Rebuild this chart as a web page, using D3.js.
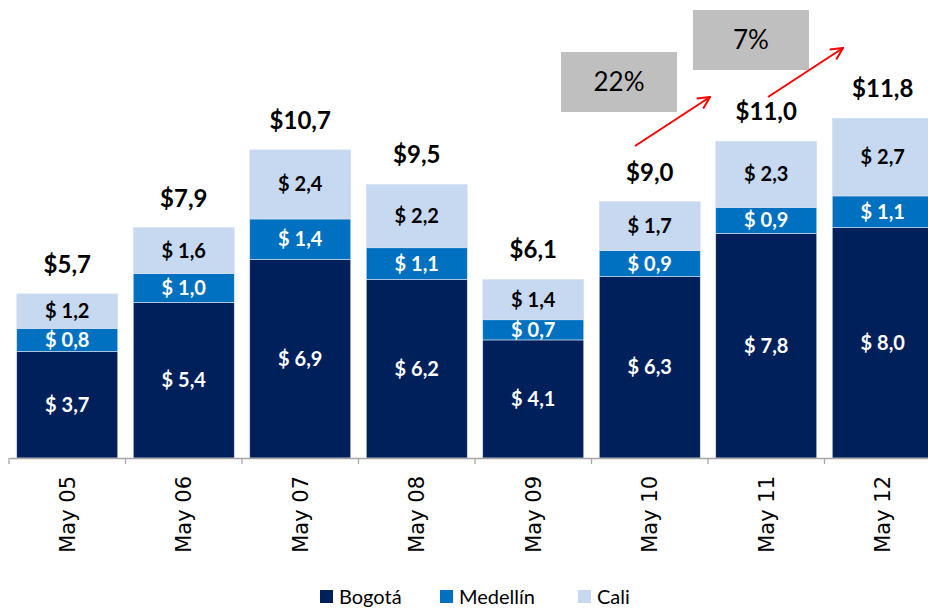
<!DOCTYPE html>
<html>
<head>
<meta charset="utf-8">
<script src="https://cdn.jsdelivr.net/npm/d3@7"></script>
<style>
  body { margin: 0; background: #fff; }
  svg { display: block; }
</style>
</head>
<body>
<svg></svg>
<script>
var categories = ['May 05', 'May 06', 'May 07', 'May 08', 'May 09', 'May 10', 'May 11', 'May 12'];
var bogota   = [3.7, 5.4, 6.9, 6.2, 4.1, 6.3, 7.8, 8.0];
var medellin = [0.8, 1.0, 1.4, 1.1, 0.7, 0.9, 0.9, 1.1];
var cali     = [1.2, 1.6, 2.4, 2.2, 1.4, 1.7, 2.3, 2.7];
var totals   = [5.7, 7.9, 10.7, 9.5, 6.1, 9.0, 11.0, 11.8];
var seriesNames = ['Bogotá', 'Medellín', 'Cali'];
var growthLabels = ['22%', '7%'];

var width = 928, height = 609;
var colors = ['#00205b', '#0070c0', '#c6d9f1'];
var labelColors = ['#fff', '#fff', '#000'];
var font = 'Lato, "Open Sans", sans-serif';

var svg = d3.select('svg').attr('width', width).attr('height', height);

var x = d3.scaleBand().domain(categories).range([9, 941])
  .paddingInner(0.133).paddingOuter(0.0665);
var y = d3.scaleLinear().domain([0, 12]).range([458, 112.4]);

var table = categories.map(function(c, i) {
  return { cat: c, 'Bogotá': bogota[i], 'Medellín': medellin[i], 'Cali': cali[i] };
});
var stacked = d3.stack().keys(seriesNames)(table);

var layer = svg.append('g').selectAll('g')
  .data(stacked)
  .enter().append('g')
  .attr('fill', function(d, i) { return colors[i]; });

layer.selectAll('rect')
  .data(function(d) { return d; })
  .enter().append('rect')
  .attr('x', function(d) { return x(d.data.cat); })
  .attr('y', function(d) { return y(d[1]); })
  .attr('width', x.bandwidth())
  .attr('height', function(d) { return y(d[0]) - y(d[1]); })
  .attr('stroke', '#d9e2ef')
  .attr('stroke-width', 0.6);

layer.each(function(s, si) {
  d3.select(this).selectAll('text')
    .data(s)
    .enter().append('text')
    .attr('x', function(d) { return x(d.data.cat) + x.bandwidth() / 2; })
    .attr('y', function(d) { return (y(d[0]) + y(d[1])) / 2; })
    .attr('dy', '0.35em')
    .attr('text-anchor', 'middle')
    .attr('fill', labelColors[si])
    .style('font-family', font)
    .style('font-weight', 'bold')
    .style('font-size', '20px')
    .text(function(d) { return '$ ' + (d[1] - d[0]).toFixed(1).replace('.', ','); });
});

// totals above bars
svg.append('g').selectAll('text')
  .data(categories)
  .enter().append('text')
  .attr('x', function(d) { return x(d) + x.bandwidth() / 2; })
  .attr('y', function(d, i) { return y(stacked[2][i][1]) - 21; })
  .attr('text-anchor', 'middle')
  .style('font-family', font)
  .style('font-weight', 'bold')
  .style('font-size', '24px')
  .text(function(d, i) { return '$' + totals[i].toFixed(1).replace('.', ','); });

// x axis
var axis = svg.append('g')
  .attr('transform', 'translate(0,458)')
  .call(d3.axisBottom(x).tickSize(0).tickFormat(''));
axis.select('.domain').attr('stroke', '#a6a6a6').attr('stroke-width', 1.3);
var step = x.step();
axis.selectAll('.sep')
  .data(categories)
  .enter().append('line')
  .attr('class', 'sep')
  .attr('x1', function(d) { return x(d) - x.paddingInner() * step / 2; })
  .attr('x2', function(d) { return x(d) - x.paddingInner() * step / 2; })
  .attr('y1', 0).attr('y2', 6)
  .attr('stroke', '#a6a6a6').attr('stroke-width', 1.3);

svg.append('g').selectAll('text')
  .data(categories)
  .enter().append('text')
  .attr('transform', function(d) {
    return 'translate(' + (x(d) + x.bandwidth() / 2) + ',476) rotate(-90)';
  })
  .attr('text-anchor', 'end')
  .attr('dy', '0.35em')
  .style('font-family', '"DejaVu Sans", sans-serif')
  .style('font-size', '21px')
  .text(function(d) { return d; });

// growth annotations
svg.append('defs').append('marker')
  .attr('id', 'arrow')
  .attr('viewBox', '0 0 14 14')
  .attr('refX', 13).attr('refY', 7)
  .attr('markerWidth', 14).attr('markerHeight', 14)
  .attr('markerUnits', 'userSpaceOnUse')
  .attr('orient', 'auto')
  .append('path')
  .attr('d', 'M1,1 L13,7 L1,13')
  .attr('fill', 'none')
  .attr('stroke', 'red')
  .attr('stroke-width', 2);

var boxes = [
  { x: 561, y: 52, w: 116, h: 60 },
  { x: 693, y: 10, w: 116, h: 60 }
];
var arrows = [
  { x1: 635, y1: 146, x2: 710, y2: 97 },
  { x1: 768, y1: 97, x2: 843, y2: 48 }
];
growthLabels.forEach(function(label, i) {
  var b = boxes[i], a = arrows[i];
  svg.append('rect')
    .attr('x', b.x).attr('y', b.y).attr('width', b.w).attr('height', b.h)
    .attr('fill', '#bfbfbf');
  svg.append('text')
    .attr('x', b.x + b.w / 2).attr('y', b.y + b.h / 2)
    .attr('dy', '0.35em')
    .attr('text-anchor', 'middle')
    .style('font-family', font)
    .style('font-size', '26px')
    .text(label);
  svg.append('line')
    .attr('x1', a.x1).attr('y1', a.y1)
    .attr('x2', a.x2).attr('y2', a.y2)
    .attr('stroke', 'red')
    .attr('stroke-width', 2)
    .attr('marker-end', 'url(#arrow)');
});

// legend
var legend = svg.append('g').attr('transform', 'translate(0,597)');
var legendX = [320, 440, 578];
seriesNames.forEach(function(n, i) {
  legend.append('rect')
    .attr('x', legendX[i]).attr('y', -7).attr('width', 13).attr('height', 13)
    .attr('fill', colors[i]);
  legend.append('text')
    .attr('x', legendX[i] + 19).attr('y', 0)
    .attr('dy', '0.35em')
    .style('font-family', font)
    .style('font-size', '20px')
    .text(n);
});
</script>
</body>
</html>
